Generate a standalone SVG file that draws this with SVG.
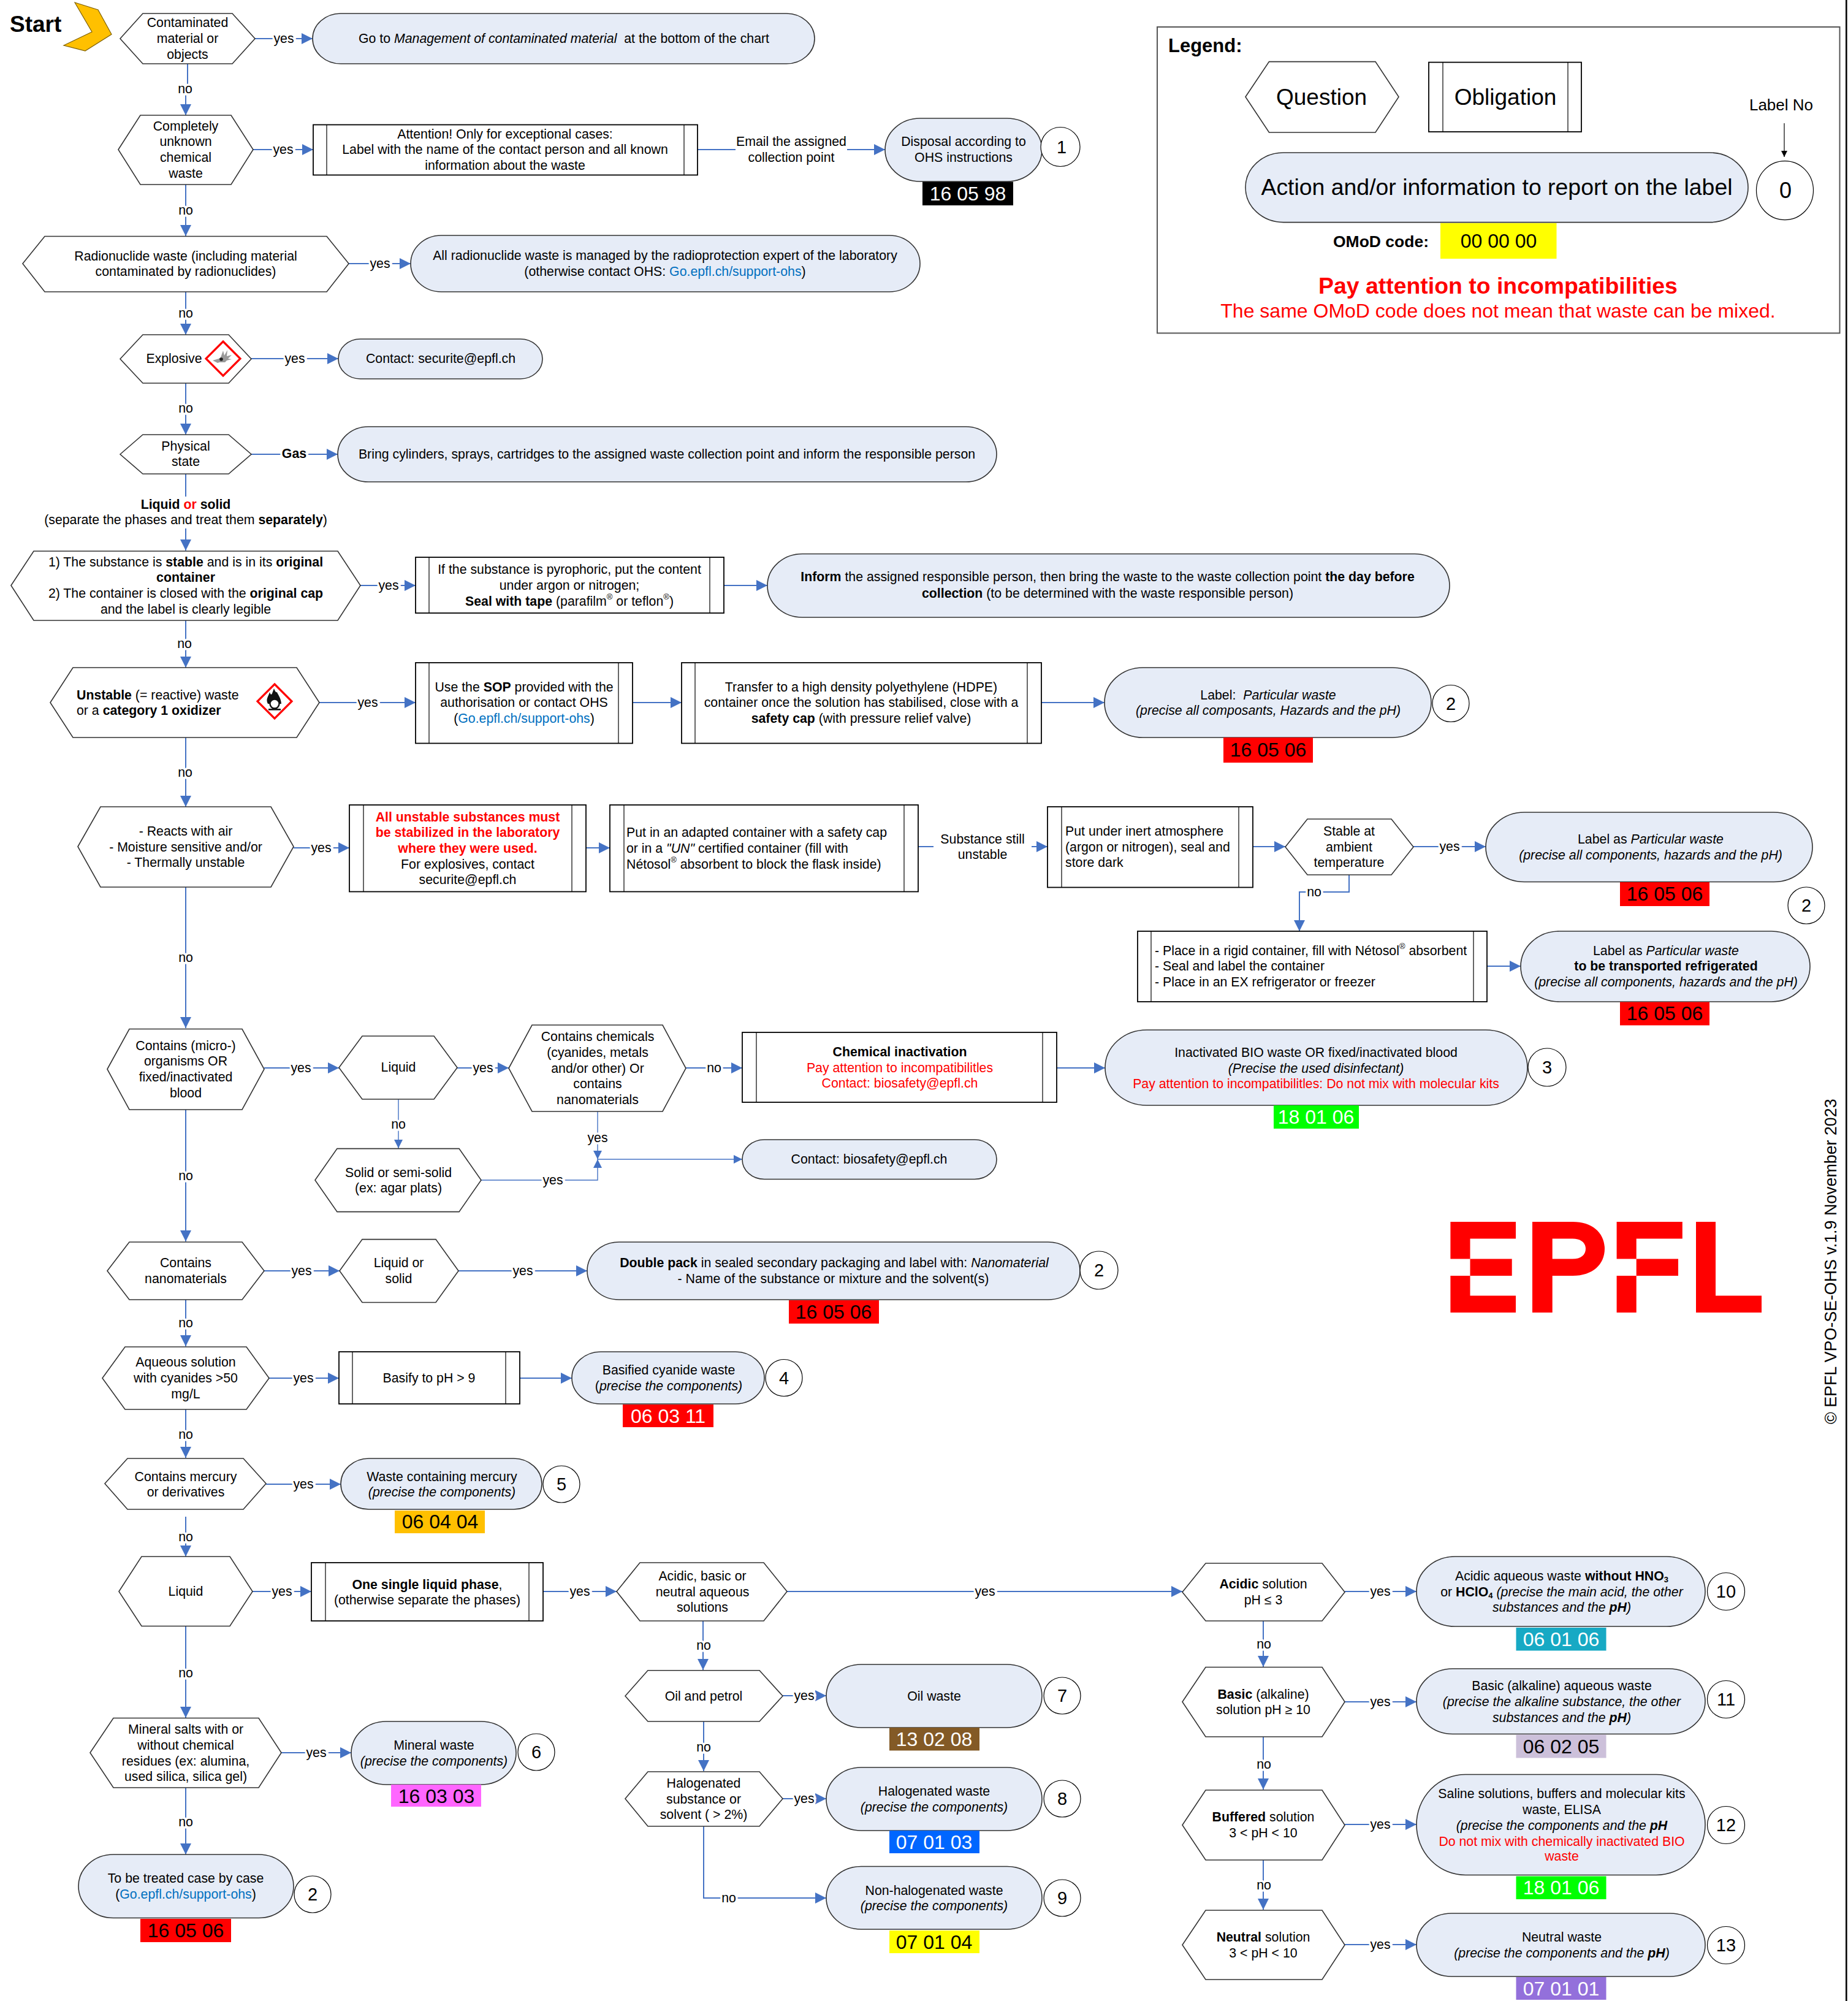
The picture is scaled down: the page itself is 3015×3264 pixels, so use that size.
<svg xmlns="http://www.w3.org/2000/svg" width="3015" height="3264" viewBox="0 0 3015 3264">
<style>
text{font-family:"Liberation Sans",Arial,sans-serif;dominant-baseline:central;fill:#000}
.t{font-size:21.3px;text-anchor:middle}
.tl{font-size:21.3px;text-anchor:start}
.q{fill:#fff;stroke:#333;stroke-width:1.6}
.p{fill:#E6ECF7;stroke:#333;stroke-width:1.6}
.o{fill:#fff;stroke:#000;stroke-width:1.8}
.bar{stroke:#000;stroke-width:1.2}
.n{fill:#fff;stroke:#000;stroke-width:1.2}
.nt{font-size:29px;text-anchor:middle}
.cd{font-size:32px;text-anchor:middle}
.w{fill:#fff}
.b{font-weight:bold}
.i{font-style:italic}
.r{fill:#f00}
.lk{fill:#0070C0}
.c{fill:none;stroke:#4472C4;stroke-width:2;marker-end:url(#a)}
.cs{fill:none;stroke:#4472C4;stroke-width:1.4;marker-end:url(#s)}
.l{font-size:21.3px;text-anchor:middle;paint-order:stroke;stroke:#fff;stroke-width:7px}
.sup{font-size:13px}
.hz{fill:#fff;stroke:#f00;stroke-width:3.2}
</style>
<defs>
<marker id="a" markerUnits="userSpaceOnUse" markerWidth="18" markerHeight="18" refX="18" refY="9" orient="auto"><path d="M0 0L18 9L0 18z" fill="#4472C4"/></marker>
<marker id="s" markerUnits="userSpaceOnUse" markerWidth="14" markerHeight="14" refX="14" refY="7" orient="auto"><path d="M0 0L14 7L0 14z" fill="#4472C4"/></marker>
<marker id="k" markerUnits="userSpaceOnUse" markerWidth="10" markerHeight="10" refX="10" refY="5" orient="auto"><path d="M0 0L10 5L0 10z" fill="#000"/></marker>
</defs>
<rect width="3015" height="3264" fill="#fff"/>
<line id="page-edge" x1="3012.3" y1="0" x2="3012.3" y2="3264" stroke="#000" stroke-width="2.6"/>

<g id="connectors">
<polyline class="c" points="306,104 306,145 303,145 303,188"/>
<path class="c" d="M416 63H510"/>
<path class="c" d="M413 244H511"/>
<path class="c" d="M1138 244H1444"/>
<path class="c" d="M303 301V385"/>
<path class="c" d="M569 430H670"/>
<path class="c" d="M303 476V546"/>
<path class="c" d="M410 585H552"/>
<path class="c" d="M303 625V709"/>
<path class="c" d="M410 741H551"/>
<path class="c" d="M303 773V898"/>
<path class="c" d="M588 955H678"/>
<path class="c" d="M1181 955H1252"/>
<path class="c" d="M303 1012V1089"/>
<path class="c" d="M521 1146H678"/>
<path class="c" d="M1032 1146H1112"/>
<path class="c" d="M1699 1146H1802"/>
<path class="c" d="M303 1203V1316"/>
<path class="c" d="M479 1383H570"/>
<path class="c" d="M956 1383H995"/>
<path class="c" d="M1498 1381H1709"/>
<path class="c" d="M2044 1381H2097"/>
<path class="c" d="M2306 1381H2424"/>
<polyline class="c" points="2201,1427 2201,1455 2120,1455 2120,1519"/>
<path class="c" d="M2426 1576H2481"/>
<path class="c" d="M303 1447V1677"/>
<path class="c" d="M431 1742H553"/>
<path class="c" d="M746 1742H830"/>
<path class="c" d="M1119 1742H1211"/>
<path class="c" d="M1724 1742H1803"/>
<path class="cs" d="M650 1793V1873"/>
<path class="cs" d="M975 1813V1891"/>
<polyline class="cs" points="785,1925 975,1925 975,1891"/>
<path class="cs" d="M975 1891H1211"/>
<path class="c" d="M303 1810V2025"/>
<path class="c" d="M431 2073H554"/>
<path class="c" d="M748 2073H958"/>
<path class="c" d="M303 2120V2196"/>
<path class="c" d="M439 2248H553"/>
<path class="c" d="M848 2248H933"/>
<path class="c" d="M303 2299V2378"/>
<path class="c" d="M434 2421H556"/>
<path class="c" d="M303 2474V2539"/>
<path class="c" d="M412 2596H508"/>
<path class="c" d="M886 2596H1006"/>
<path class="c" d="M1284 2596H1929"/>
<path class="c" d="M2194 2596H2311"/>
<path class="c" d="M1147 2644V2724"/>
<path class="c" d="M1277 2766H1348"/>
<path class="c" d="M1148 2808V2889"/>
<path class="c" d="M1277 2934H1348"/>
<polyline class="c" points="1148,2979 1148,3096 1348,3096"/>
<path class="c" d="M2061 2644V2719"/>
<path class="c" d="M2194 2776H2311"/>
<path class="c" d="M2061 2833V2919"/>
<path class="c" d="M2194 2976H2311"/>
<path class="c" d="M2061 3034V3115"/>
<path class="c" d="M2194 3172H2311"/>
<path class="c" d="M303 2652V2802"/>
<path class="c" d="M459 2859H573"/>
<path class="c" d="M303 2916V3025"/>
<rect x="1200" y="216" width="182" height="56" fill="#fff"/>
<rect x="60" y="810" width="490" height="52" fill="#fff"/>
<rect x="1523" y="1355" width="160" height="53" fill="#fff"/>
<text class="l" x="302" y="145">no</text>
<text class="l" x="463" y="63">yes</text>
<text class="l" x="462" y="244">yes</text>
<text class="t" x="1291" y="231">Email the assigned</text>
<text class="t" x="1291" y="257">collection point</text>
<text class="l" x="303" y="343">no</text>
<text class="l" x="620" y="430">yes</text>
<text class="l" x="303" y="511">no</text>
<text class="l" x="481" y="585">yes</text>
<text class="l" x="303" y="666">no</text>
<text class="l b" x="480" y="740">Gas</text>
<text class="t" x="303" y="823"><tspan class="b">Liquid </tspan><tspan class="b r">or</tspan><tspan class="b"> solid</tspan></text>
<text class="t" x="303" y="848">(separate the phases and treat them <tspan class="b">separately</tspan>)</text>
<text class="l" x="634" y="955">yes</text>
<text class="l" x="301" y="1050">no</text>
<text class="l" x="600" y="1146">yes</text>
<text class="l" x="302" y="1260">no</text>
<text class="l" x="524" y="1383">yes</text>
<text class="t" x="1603" y="1369">Substance still</text>
<text class="t" x="1603" y="1394">unstable</text>
<text class="l" x="2365" y="1381">yes</text>
<text class="l" x="2144" y="1455">no</text>
<text class="l" x="303" y="1562">no</text>
<text class="l" x="491" y="1742">yes</text>
<text class="l" x="788" y="1742">yes</text>
<text class="l" x="1165" y="1742">no</text>
<text class="l" x="650" y="1834">no</text>
<text class="l" x="975" y="1856">yes</text>
<text class="l" x="902" y="1925">yes</text>
<text class="l" x="303" y="1918">no</text>
<text class="l" x="492" y="2073">yes</text>
<text class="l" x="853" y="2073">yes</text>
<text class="l" x="303" y="2158">no</text>
<text class="l" x="495" y="2248">yes</text>
<text class="l" x="303" y="2340">no</text>
<text class="l" x="495" y="2421">yes</text>
<text class="l" x="303" y="2507">no</text>
<text class="l" x="460" y="2596">yes</text>
<text class="l" x="946" y="2596">yes</text>
<text class="l" x="1607" y="2596">yes</text>
<text class="l" x="2252" y="2596">yes</text>
<text class="l" x="1148" y="2684">no</text>
<text class="l" x="1312" y="2766">yes</text>
<text class="l" x="1148" y="2850">no</text>
<text class="l" x="1312" y="2934">yes</text>
<text class="l" x="1189" y="3096">no</text>
<text class="l" x="2062" y="2682">no</text>
<text class="l" x="2252" y="2776">yes</text>
<text class="l" x="2062" y="2878">no</text>
<text class="l" x="2252" y="2976">yes</text>
<text class="l" x="2062" y="3075">no</text>
<text class="l" x="2252" y="3172">yes</text>
<text class="l" x="303" y="2729">no</text>
<text class="l" x="516" y="2859">yes</text>
<text class="l" x="303" y="2972">no</text>
</g>

<g id="start">
<text class="b" x="16" y="39" style="font-size:37px">Start</text>
<polygon points="122,4 160,16 182,56 139,83 104,74 150,52" fill="#FFC000" stroke="#7F6000" stroke-width="1.2"/>
</g>

<g id="n-contaminated">
<polygon class="q" points="196,63 233,22 379,22 416,63 379,104 233,104"/>
<text class="t"><tspan x="306" y="37">Contaminated</tspan><tspan x="306" y="63">material or</tspan><tspan x="306" y="89">objects</tspan></text>
</g>
<g id="n-goto">
<rect class="p" x="510" y="22" width="819" height="82" rx="46" ry="41"/>
<text class="t" x="920" y="63">Go to <tspan class="i">Management of contaminated material</tspan>&#160; at the bottom of the chart</text>
</g>
<g id="n-unknown">
<polygon class="q" points="193,244 229,188 377,188 413,244 377,301 229,301"/>
<text class="t"><tspan x="303" y="206">Completely</tspan><tspan x="303" y="231">unknown</tspan><tspan x="303" y="257">chemical</tspan><tspan x="303" y="283">waste</tspan></text>
</g>
<g id="n-attention">
<rect class="o" x="511" y="203.5" width="627" height="82"/><path class="bar" d="M533 203.5V285.5M1116 203.5V285.5"/>
<text class="t"><tspan x="824" y="219">Attention! Only for exceptional cases:</tspan><tspan x="824" y="244">Label with the name of the contact person and all known</tspan><tspan x="824" y="270">information about the waste</tspan></text>
</g>
<g id="n-disposal">
<rect class="p" x="1444" y="193" width="256" height="103" rx="57" ry="51.5"/>
<text class="t"><tspan x="1572" y="231">Disposal according to</tspan><tspan x="1572" y="257">OHS instructions</tspan></text>
<rect x="1505" y="296.5" width="148" height="38.5" fill="#000"/>
<text class="cd w" x="1579" y="316">16 05 98</text>
<ellipse class="n" cx="1730" cy="239.5" rx="32" ry="32"/><text class="nt" x="1732" y="239.5">1</text>
</g>
<g id="n-radio">
<polygon class="q" points="37,430 73,385.5 533,385.5 569,430 533,476 73,476"/>
<text class="t"><tspan x="303" y="418">Radionuclide waste (including material</tspan><tspan x="303" y="443">contaminated by radionuclides)</tspan></text>
</g>
<g id="n-radio-a">
<rect class="p" x="670" y="384" width="831" height="92" rx="50" ry="46"/>
<text class="t"><tspan x="1085" y="417">All radionuclide waste is managed by the radioprotection expert of the laboratory</tspan><tspan x="1085" y="443">(otherwise contact OHS: <tspan class="lk">Go.epfl.ch/support-ohs</tspan>)</tspan></text>
</g>
<g id="n-explosive">
<polygon class="q" points="196,585.5 233,546 373,546 410,585.5 373,625 233,625"/>
<text class="t" x="284" y="585">Explosive</text>
<polygon class="hz" points="364,557 392,585 364,613 336,585"/>
<path d="M347 588l10-3 3-2 4-11 2 8 5-9-1 10 8-2-6 6 6 1-8 2-3 3-9 0-3 1z" fill="#999"/><circle cx="361" cy="586" r="2.8" fill="#222"/>
</g>
<g id="n-securite">
<rect class="p" x="552" y="553" width="333" height="65" rx="36" ry="32.5"/>
<text class="t" x="719" y="585">Contact: securite@epfl.ch</text>
</g>
<g id="n-state">
<polygon class="q" points="196,741 233,709 373,709 410,741 373,773 233,773"/>
<text class="t"><tspan x="303" y="728">Physical</tspan><tspan x="303" y="753">state</tspan></text>
</g>
<g id="n-gas">
<rect class="p" x="551" y="696" width="1075" height="90" rx="50" ry="45"/>
<text class="t" x="1088" y="741">Bring cylinders, sprays, cartridges to the assigned waste collection point and inform the responsible person</text>
</g>
<g id="n-stable">
<polygon class="q" points="18,955 55,899 551,899 588,955 551,1012 55,1012"/>
<text class="t"><tspan x="303" y="917">1) The substance is <tspan class="b">stable</tspan> and is in its <tspan class="b">original</tspan></tspan><tspan class="b" x="303" y="942">container</tspan><tspan x="303" y="968">2) The container is closed with the <tspan class="b">original cap</tspan></tspan><tspan x="303" y="994">and the label is clearly legible</tspan></text>
</g>
<g id="n-pyro">
<rect class="o" x="678" y="909" width="503" height="91"/><path class="bar" d="M700 909V1000M1158 909V1000"/>
<text class="t"><tspan x="929" y="929">If the substance is pyrophoric, put the content</tspan><tspan x="929" y="955">under argon or nitrogen;</tspan><tspan x="929" y="981"><tspan class="b">Seal with tape</tspan> (parafilm<tspan class="sup" dy="-8">®</tspan><tspan dy="8"> or teflon</tspan><tspan class="sup" dy="-8">®</tspan><tspan dy="8">)</tspan></tspan></text>
</g>
<g id="n-inform">
<rect class="p" x="1252" y="903.5" width="1113" height="103.5" rx="57" ry="51.7"/>
<text class="t"><tspan x="1807" y="941"><tspan class="b">Inform</tspan> the assigned responsible person, then bring the waste to the waste collection point <tspan class="b">the day before</tspan></tspan><tspan x="1807" y="968"><tspan class="b">collection</tspan> (to be determined with the waste responsible person)</tspan></text>
</g>
<g id="n-unstable">
<polygon class="q" points="82,1146 119,1089 484,1089 521,1146 484,1203 119,1203"/>
<text class="tl"><tspan x="125" y="1134"><tspan class="b">Unstable</tspan> (= reactive) waste</tspan><tspan x="125" y="1159">or a <tspan class="b">category 1 oxidizer</tspan></tspan></text>
<polygon class="hz" points="448,1116 476,1144 448,1172 420,1144"/>
<path d="M437 1148C433 1140 438 1136 440 1129C441 1133 443 1134 444 1131L447 1123C449 1128 450 1130 452 1129C453 1133 458 1137 459 1148Z" fill="#111"/><circle cx="448" cy="1148" r="7.5" fill="#fff" stroke="#111" stroke-width="2.4"/><rect x="438" y="1156" width="20" height="2.6" fill="#111"/>
</g>
<g id="n-sop">
<rect class="o" x="678" y="1081" width="354" height="131.5"/><path class="bar" d="M700 1081V1212.5M1009 1081V1212.5"/>
<text class="t"><tspan x="855" y="1121">Use the <tspan class="b">SOP</tspan> provided with the</tspan><tspan x="855" y="1146">authorisation or contact OHS</tspan><tspan x="855" y="1172">(<tspan class="lk">Go.epfl.ch/support-ohs</tspan>)</tspan></text>
</g>
<g id="n-hdpe">
<rect class="o" x="1112" y="1081" width="587" height="131.5"/><path class="bar" d="M1134 1081V1212.5M1676 1081V1212.5"/>
<text class="t"><tspan x="1405" y="1121">Transfer to a high density polyethylene (HDPE)</tspan><tspan x="1405" y="1146">container once the solution has stabilised, close with a</tspan><tspan x="1405" y="1172"><tspan class="b">safety cap</tspan> (with pressure relief valve)</tspan></text>
</g>
<g id="n-part1">
<rect class="p" x="1802" y="1089" width="533" height="114" rx="63" ry="57"/>
<text class="t"><tspan x="2069" y="1134">Label:&#160; <tspan class="i">Particular waste</tspan></tspan><tspan class="i" x="2069" y="1159">(precise all composants, Hazards and the pH)</tspan></text>
<rect x="1996" y="1203" width="146" height="41" fill="#f00"/><text class="cd" x="2069" y="1223">16 05 06</text>
<ellipse class="n" cx="2367" cy="1147.5" rx="30" ry="30"/><text class="nt" x="2367" y="1147.5">2</text>
</g>
<g id="n-reacts">
<polygon class="q" points="127,1381 164,1316 442,1316 479,1381 442,1447 164,1447"/>
<text class="t"><tspan x="303" y="1356">- Reacts with air</tspan><tspan x="303" y="1382">- Moisture sensitive and/or</tspan><tspan x="303" y="1407">- Thermally unstable</tspan></text>
</g>
<g id="n-stabilized">
<rect class="o" x="570" y="1313" width="386" height="141.5"/><path class="bar" d="M593 1313V1454.5M933 1313V1454.5"/>
<text class="t"><tspan class="b r" x="763" y="1333">All unstable substances must</tspan><tspan class="b r" x="763" y="1358">be stabilized in the laboratory</tspan><tspan class="b r" x="763" y="1384">where they were used.</tspan><tspan x="763" y="1410">For explosives, contact</tspan><tspan x="763" y="1435">securite@epfl.ch</tspan></text>
</g>
<g id="n-adapted">
<rect class="o" x="995" y="1313" width="503" height="141.5"/><path class="bar" d="M1018 1313V1454.5M1475 1313V1454.5"/>
<text class="tl"><tspan x="1022" y="1358">Put in an adapted container with a safety cap</tspan><tspan x="1022" y="1384">or in a <tspan class="i">"UN"</tspan> certified container (fill with</tspan><tspan x="1022" y="1410">Nétosol<tspan class="sup" dy="-8">®</tspan><tspan dy="8"> absorbent to block the flask inside)</tspan></tspan></text>
</g>
<g id="n-inert">
<rect class="o" x="1709" y="1316" width="335" height="131.5"/><path class="bar" d="M1732 1316V1447.5M2021 1316V1447.5"/>
<text class="tl"><tspan x="1738" y="1356">Put under inert atmosphere</tspan><tspan x="1738" y="1382">(argon or nitrogen), seal and</tspan><tspan x="1738" y="1407">store dark</tspan></text>
</g>
<g id="n-ambient">
<polygon class="q" points="2097,1381.5 2133,1336 2270,1336 2306,1381.5 2270,1427 2133,1427"/>
<text class="t"><tspan x="2201" y="1356">Stable at</tspan><tspan x="2201" y="1382">ambient</tspan><tspan x="2201" y="1407">temperature</tspan></text>
</g>
<g id="n-part2">
<rect class="p" x="2424" y="1325" width="533" height="113.5" rx="63" ry="56.7"/>
<text class="t"><tspan x="2693" y="1369">Label as <tspan class="i">Particular waste</tspan></tspan><tspan class="i" x="2693" y="1395">(precise all components, hazards and the pH)</tspan></text>
<rect x="2643" y="1439" width="146" height="39" fill="#f00"/><text class="cd" x="2716" y="1458">16 05 06</text>
<ellipse class="n" cx="2947" cy="1477" rx="30" ry="30"/><text class="nt" x="2947" y="1477">2</text>
</g>
<g id="n-rigid">
<rect class="o" x="1856" y="1519" width="570" height="115"/><path class="bar" d="M1878 1519V1634M2404 1519V1634"/>
<text class="tl"><tspan x="1884" y="1551">- Place in a rigid container, fill with Nétosol<tspan class="sup" dy="-8">®</tspan><tspan dy="8"> absorbent</tspan></tspan><tspan x="1884" y="1576">- Seal and label the container</tspan><tspan x="1884" y="1602">- Place in an EX refrigerator or freezer</tspan></text>
</g>
<g id="n-part3">
<rect class="p" x="2481" y="1519" width="472" height="115" rx="63" ry="57.5"/>
<text class="t"><tspan x="2718" y="1551">Label as <tspan class="i">Particular waste</tspan></tspan><tspan class="b" x="2718" y="1576">to be transported refrigerated</tspan><tspan class="i" x="2718" y="1602">(precise all components, hazards and the pH)</tspan></text>
<rect x="2643" y="1634.5" width="146" height="38" fill="#f00"/><text class="cd" x="2716" y="1653">16 05 06</text>
</g>
<g id="n-micro">
<polygon class="q" points="175,1744 211,1678.5 395,1678.5 431,1744 395,1810 211,1810"/>
<text class="t"><tspan x="303" y="1706">Contains (micro-)</tspan><tspan x="303" y="1731">organisms OR</tspan><tspan x="303" y="1757">fixed/inactivated</tspan><tspan x="303" y="1783">blood</tspan></text>
</g>
<g id="n-liquid1">
<polygon class="q" points="553,1741.5 591,1690 708,1690 746,1741.5 708,1793 591,1793"/>
<text class="t" x="650" y="1741">Liquid</text>
</g>
<g id="n-chem">
<polygon class="q" points="830,1742.5 868,1672 1081,1672 1119,1742.5 1081,1813 868,1813"/>
<text class="t"><tspan x="975" y="1691">Contains chemicals</tspan><tspan x="975" y="1717">(cyanides, metals</tspan><tspan x="975" y="1743">and/or other) Or</tspan><tspan x="975" y="1768">contains</tspan><tspan x="975" y="1794">nanomaterials</tspan></text>
</g>
<g id="n-inact">
<rect class="o" x="1211" y="1684" width="513" height="114"/><path class="bar" d="M1234 1684V1798M1701 1684V1798"/>
<text class="t"><tspan class="b" x="1468" y="1716">Chemical inactivation</tspan><tspan class="r" x="1468" y="1742">Pay attention to incompatibilitles</tspan><tspan class="r" x="1468" y="1767">Contact: biosafety@epfl.ch</tspan></text>
</g>
<g id="n-bio">
<rect class="p" x="1803" y="1680" width="689" height="123" rx="68" ry="61.5"/>
<text class="t"><tspan x="2147" y="1717">Inactivated BIO waste OR fixed/inactivated blood</tspan><tspan class="i" x="2147" y="1743">(Precise the used disinfectant)</tspan><tspan class="r" x="2147" y="1768">Pay attention to incompatibilitles: Do not mix with molecular kits</tspan></text>
<rect x="2078" y="1803" width="139" height="38" fill="#0f0"/><text class="cd w" x="2147" y="1822">18 01 06</text>
<ellipse class="n" cx="2524" cy="1741" rx="31" ry="31"/><text class="nt" x="2524" y="1741">3</text>
</g>
<g id="n-solid">
<polygon class="q" points="514,1925 550,1873.6 749,1873.6 785,1925 749,1976.6 550,1976.6"/>
<text class="t"><tspan x="650" y="1913">Solid or semi-solid</tspan><tspan x="650" y="1938">(ex: agar plats)</tspan></text>
</g>
<g id="n-biosafety">
<rect class="p" x="1211" y="1859" width="415" height="64.5" rx="36" ry="32"/>
<text class="t" x="1418" y="1891">Contact: biosafety@epfl.ch</text>
</g>
<g id="n-nano">
<polygon class="q" points="175,2073 211,2026 395,2026 431,2073 395,2120 211,2120"/>
<text class="t"><tspan x="303" y="2060">Contains</tspan><tspan x="303" y="2086">nanomaterials</tspan></text>
</g>
<g id="n-liqsol">
<polygon class="q" points="554,2073 591,2021.6 711,2021.6 748,2073 711,2124.5 591,2124.5"/>
<text class="t"><tspan x="650.5" y="2060">Liquid or</tspan><tspan x="650.5" y="2086">solid</tspan></text>
</g>
<g id="n-double">
<rect class="p" x="958" y="2026" width="804" height="94" rx="52" ry="47"/>
<text class="t"><tspan x="1361" y="2060"><tspan class="b">Double pack</tspan> in sealed secondary packaging and label with: <tspan class="i">Nanomaterial</tspan></tspan><tspan x="1359.5" y="2086">- Name of the substance or mixture and the solvent(s)</tspan></text>
<rect x="1287" y="2121" width="147" height="38" fill="#f00"/><text class="cd" x="1360" y="2140">16 05 06</text>
<ellipse class="n" cx="1793" cy="2072" rx="31" ry="31"/><text class="nt" x="1793" y="2072">2</text>
</g>
<g id="n-cyan">
<polygon class="q" points="167,2248 204,2197 402,2197 439,2248 402,2299 204,2299"/>
<text class="t"><tspan x="303" y="2222">Aqueous solution</tspan><tspan x="303" y="2248">with cyanides &gt;50</tspan><tspan x="303" y="2274">mg/L</tspan></text>
</g>
<g id="n-basify">
<rect class="o" x="553" y="2205" width="295" height="85"/><path class="bar" d="M575 2205V2290M825 2205V2290"/>
<text class="t" x="700" y="2248">Basify to pH &gt; 9</text>
</g>
<g id="n-cyanw">
<rect class="p" x="933" y="2205" width="314" height="85" rx="47" ry="42.5"/>
<text class="t"><tspan x="1091" y="2235">Basified cyanide waste</tspan><tspan x="1091" y="2261">(<tspan class="i">precise the components)</tspan></tspan></text>
<rect x="1016" y="2291" width="148" height="37" fill="#f00"/><text class="cd w" x="1090" y="2309.5">06 03 11</text>
<ellipse class="n" cx="1279" cy="2247.5" rx="30" ry="30"/><text class="nt" x="1279" y="2247.5">4</text>
</g>
<g id="n-merc">
<polygon class="q" points="171,2420 208,2379 397,2379 434,2420 397,2462 208,2462"/>
<text class="t"><tspan x="303" y="2409">Contains mercury</tspan><tspan x="303" y="2434">or derivatives</tspan></text>
</g>
<g id="n-mercw">
<rect class="p" x="556" y="2379" width="328" height="83" rx="46" ry="41.5"/>
<text class="t"><tspan x="721" y="2409">Waste containing mercury</tspan><tspan class="i" x="721" y="2434">(precise the components)</tspan></text>
<rect x="644" y="2464" width="147" height="37" fill="#FFC000"/><text class="cd" x="718" y="2482">06 04 04</text>
<ellipse class="n" cx="916" cy="2421" rx="30" ry="30"/><text class="nt" x="916" y="2421">5</text>
</g>
<g id="n-liquid2">
<polygon class="q" points="194,2596 231,2539 375,2539 412,2596 375,2652.5 231,2652.5"/>
<text class="t" x="303" y="2596">Liquid</text>
</g>
<g id="n-single">
<rect class="o" x="508" y="2549" width="378" height="95"/><path class="bar" d="M531 2549V2644M863 2549V2644"/>
<text class="t"><tspan x="697" y="2584.5"><tspan class="b">One single liquid phase</tspan>,</tspan><tspan x="697" y="2609.5">(otherwise separate the phases)</tspan></text>
</g>
<g id="n-acidq">
<polygon class="q" points="1006,2596 1044,2549 1246,2549 1284,2596 1246,2644 1044,2644"/>
<text class="t"><tspan x="1146" y="2571">Acidic, basic or</tspan><tspan x="1146" y="2597">neutral aqueous</tspan><tspan x="1146" y="2622">solutions</tspan></text>
</g>
<g id="n-mineral">
<polygon class="q" points="147,2859 185,2802.5 422,2802.5 459,2859 422,2916 185,2916"/>
<text class="t"><tspan x="303" y="2821">Mineral salts with or</tspan><tspan x="303" y="2847">without chemical</tspan><tspan x="303" y="2873">residues (ex: alumina,</tspan><tspan x="303" y="2898">used silica, silica gel)</tspan></text>
</g>
<g id="n-minw">
<rect class="p" x="573" y="2808" width="269" height="103" rx="57" ry="51.5"/>
<text class="t"><tspan x="708" y="2847">Mineral waste</tspan><tspan class="i" x="708" y="2873">(precise the components)</tspan></text>
<rect x="638" y="2911" width="147" height="36" fill="#FF66FF"/><text class="cd" x="712" y="2930">16 03 03</text>
<ellipse class="n" cx="875" cy="2858" rx="30" ry="30"/><text class="nt" x="875" y="2858">6</text>
</g>
<g id="n-case">
<rect class="p" x="128" y="3025" width="351" height="103.5" rx="57" ry="51.7"/>
<text class="t"><tspan x="303" y="3064">To be treated case by case</tspan><tspan x="303" y="3090">(<tspan class="lk">Go.epfl.ch/support-ohs</tspan>)</tspan></text>
<rect x="229" y="3130" width="148" height="38" fill="#f00"/><text class="cd" x="303" y="3149">16 05 06</text>
<ellipse class="n" cx="510" cy="3090" rx="30" ry="30"/><text class="nt" x="510" y="3090">2</text>
</g>
<g id="n-oil">
<polygon class="q" points="1020,2766.5 1057,2724.7 1239,2724.7 1277,2766.5 1239,2808 1057,2808"/>
<text class="t" x="1148" y="2767">Oil and petrol</text>
</g>
<g id="n-oilw">
<rect class="p" x="1348" y="2715" width="352" height="103" rx="57" ry="51.5"/>
<text class="t" x="1524" y="2767">Oil waste</text>
<rect x="1451" y="2818" width="147" height="37.5" fill="#835A26"/><text class="cd w" x="1524" y="2837">13 02 08</text>
<ellipse class="n" cx="1733" cy="2766" rx="30" ry="30"/><text class="nt" x="1733" y="2766">7</text>
</g>
<g id="n-halo">
<polygon class="q" points="1020,2934 1057,2890 1239,2890 1277,2934 1239,2979 1057,2979"/>
<text class="t"><tspan x="1148" y="2909">Halogenated</tspan><tspan x="1148" y="2935">substance or</tspan><tspan x="1148" y="2960">solvent ( &gt; 2%)</tspan></text>
</g>
<g id="n-halow">
<rect class="p" x="1348" y="2883" width="352" height="103" rx="57" ry="51.5"/>
<text class="t"><tspan x="1524" y="2922">Halogenated waste</tspan><tspan class="i" x="1524" y="2948">(precise the components)</tspan></text>
<rect x="1451" y="2986" width="147" height="37" fill="#0066FF"/><text class="cd w" x="1524" y="3005">07 01 03</text>
<ellipse class="n" cx="1733" cy="2934" rx="30" ry="30"/><text class="nt" x="1733" y="2934">8</text>
</g>
<g id="n-nonhalo">
<rect class="p" x="1348" y="3044.5" width="352" height="102.5" rx="57" ry="51.2"/>
<text class="t"><tspan x="1524" y="3083.5">Non-halogenated waste</tspan><tspan class="i" x="1524" y="3109">(precise the components)</tspan></text>
<rect x="1451" y="3149" width="147" height="37" fill="#FFFF00"/><text class="cd" x="1524" y="3168">07 01 04</text>
<ellipse class="n" cx="1733" cy="3096" rx="30" ry="30"/><text class="nt" x="1733" y="3096">9</text>
</g>
<g id="n-acid">
<polygon class="q" points="1929,2597 1967,2550 2157,2550 2194,2597 2157,2644 1967,2644"/>
<text class="t"><tspan x="2061" y="2584"><tspan class="b">Acidic</tspan> solution</tspan><tspan x="2061" y="2610">pH ≤ 3</tspan></text>
</g>
<g id="n-acidw">
<rect class="p" x="2311" y="2539" width="471" height="114" rx="63" ry="57"/>
<text class="t"><tspan x="2548" y="2571">Acidic aqueous waste <tspan class="b">without HNO<tspan class="sup" dy="5">3</tspan></tspan></tspan><tspan x="2548" y="2597">or <tspan class="b">HClO<tspan class="sup" dy="5">4</tspan></tspan> <tspan class="i" dy="-5">(precise the main acid, the other</tspan></tspan><tspan class="i" x="2548" y="2622">substances and the <tspan class="b">pH</tspan>)</tspan></text>
<rect x="2473.5" y="2655" width="147" height="37.5" fill="#17A9C4"/><text class="cd w" x="2547" y="2674">06 01 06</text>
<ellipse class="n" cx="2816" cy="2596" rx="30.5" ry="30.5"/><text class="nt" x="2816" y="2596">10</text>
</g>
<g id="n-basic">
<polygon class="q" points="1929,2776 1967,2719.5 2157,2719.5 2194,2776 2157,2833 1967,2833"/>
<text class="t"><tspan x="2061" y="2764"><tspan class="b">Basic</tspan> (alkaline)</tspan><tspan x="2061" y="2789">solution pH ≥ 10</tspan></text>
</g>
<g id="n-basicw">
<rect class="p" x="2311" y="2722" width="471" height="106.5" rx="59" ry="53.2"/>
<text class="t"><tspan x="2548" y="2750">Basic (alkaline) aqueous waste</tspan><tspan class="i" x="2548" y="2776">(precise the alkaline substance, the other</tspan><tspan class="i" x="2548" y="2801.5">substances and the <tspan class="b">pH</tspan>)</tspan></text>
<rect x="2473.5" y="2829.5" width="147" height="38" fill="#CCC0DA"/><text class="cd" x="2547" y="2849">06 02 05</text>
<ellipse class="n" cx="2816" cy="2772" rx="30.5" ry="30.5"/><text class="nt" x="2816" y="2772">11</text>
</g>
<g id="n-buffer">
<polygon class="q" points="1929,2977 1967,2920 2157,2920 2194,2977 2157,3034 1967,3034"/>
<text class="t"><tspan x="2061" y="2964"><tspan class="b">Buffered</tspan> solution</tspan><tspan x="2061" y="2990">3 &lt; pH &lt; 10</tspan></text>
</g>
<g id="n-bufferw">
<rect class="p" x="2311" y="2894.5" width="471" height="164" rx="80" ry="82"/>
<text class="t"><tspan x="2548" y="2926">Saline solutions, buffers and molecular kits</tspan><tspan x="2548" y="2951.5">waste, ELISA</tspan><tspan class="i" x="2548" y="2977.5">(precise the components and the <tspan class="b">pH</tspan></tspan><tspan class="r" x="2548" y="3003.5">Do not mix with chemically inactivated BIO</tspan><tspan class="r" x="2548" y="3028">waste</tspan></text>
<rect x="2473.5" y="3060.5" width="147" height="37.5" fill="#0f0"/><text class="cd w" x="2547" y="3079">18 01 06</text>
<ellipse class="n" cx="2816" cy="2977" rx="30.5" ry="30.5"/><text class="nt" x="2816" y="2977">12</text>
</g>
<g id="n-neutral">
<polygon class="q" points="1929,3172.5 1967,3116 2157,3116 2194,3172.5 2157,3229 1967,3229"/>
<text class="t"><tspan x="2061" y="3160"><tspan class="b">Neutral</tspan> solution</tspan><tspan x="2061" y="3186">3 &lt; pH &lt; 10</tspan></text>
</g>
<g id="n-neutralw">
<rect class="p" x="2311" y="3121" width="471" height="103" rx="57" ry="51.5"/>
<text class="t"><tspan x="2548" y="3160">Neutral waste</tspan><tspan class="i" x="2548" y="3186">(precise the components and the <tspan class="b">pH</tspan>)</tspan></text>
<rect x="2473.5" y="3225" width="147" height="37" fill="#9370DB"/><text class="cd w" x="2547" y="3244">07 01 01</text>
<ellipse class="n" cx="2816" cy="3173" rx="30.5" ry="30.5"/><text class="nt" x="2816" y="3173">13</text>
</g>

<g id="legend">
<rect x="1888" y="44" width="1113.5" height="499.4" fill="#fff" stroke="#555" stroke-width="2"/>
<text class="b" x="1906" y="74" style="font-size:31px">Legend:</text>
<polygon class="q" points="2032,158 2070.5,100.6 2244,100.6 2282,158 2244,216 2070.5,216"/>
<text class="t" x="2156" y="158" style="font-size:37px">Question</text>
<rect class="o" x="2331" y="101.6" width="249" height="113.4"/><path class="bar" d="M2354 101.6V215M2558 101.6V215"/>
<text class="t" x="2456" y="158" style="font-size:37px">Obligation</text>
<rect class="p" x="2032" y="249" width="820" height="113.6" rx="62" ry="56.8"/>
<text class="t" x="2442" y="305" style="font-size:37.4px">Action and/or information to report on the label</text>
<ellipse class="n" cx="2912" cy="310.6" rx="46.5" ry="48"/><text class="t" x="2913" y="310.6" style="font-size:36px">0</text>
<text class="t" x="2906" y="171" style="font-size:26px">Label No</text>
<path d="M2911 201V256" fill="none" stroke="#000" stroke-width="1.2" marker-end="url(#k)"/>
<text class="b" x="2253" y="393.6" text-anchor="middle" style="font-size:26.5px">OMoD code:</text>
<rect x="2350" y="364" width="189.5" height="58" fill="#FFFF00"/><text class="cd" x="2445" y="392.6">00 00 00</text>
<text class="b r" x="2444" y="466" text-anchor="middle" style="font-size:37.4px">Pay attention to incompatibilities</text>
<text class="r" x="2444" y="507" text-anchor="middle" style="font-size:32px">The same OMoD code does not mean that waste can be mixed.</text>
</g>

<g id="epfl-logo" fill="#f00">
<path d="M2366.4 1993H2473V2020.5H2398.5V2053.6H2466.7V2081H2398.5V2113.4H2473V2141H2366.4V2081H2398.5V2053.6H2366.4z"/>
<path d="M2500 1993H2565.7C2599 1993 2618 2012 2618 2037C2618 2062 2599 2081 2565.7 2081H2532.7V2141H2500zM2532.7 2020.5V2053.6H2565.7C2579 2053.6 2587 2047 2587 2037C2587 2027 2579 2020.5 2565.7 2020.5z" fill-rule="evenodd"/>
<path d="M2637.6 1993H2744.8V2020.5H2669.7V2053.6H2738V2081H2669.7V2141H2637.6V2081H2669.7V2053.6H2637.6z"/>
<path d="M2767 1993H2799V2113.4H2874V2141H2767z"/>
</g>
<text id="copyright" x="2996" y="2323" transform="rotate(-90 2996 2323)" style="font-size:26.8px;dominant-baseline:auto">© EPFL VPO-SE-OHS v.1.9 November 2023</text>
</svg>
